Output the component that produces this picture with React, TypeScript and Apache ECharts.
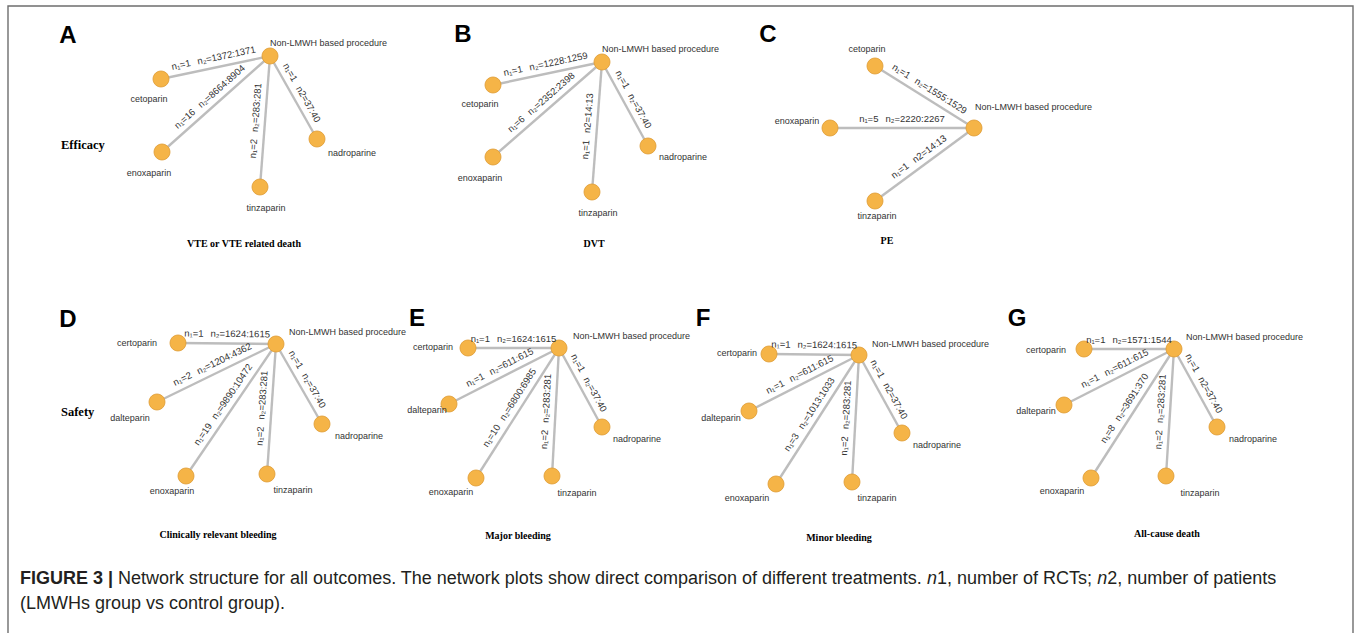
import React, { useEffect, useRef } from "react";
import * as echarts from "echarts";

// ---------------- data ----------------
const HUB = "Non-LMWH based procedure";
const panelLetters = ["A", "B", "C", "D", "E", "F", "G"];
const panelTitles = [
  "VTE or VTE related death",
  "DVT",
  "PE",
  "Clinically relevant bleeding",
  "Major bleeding",
  "Minor bleeding",
  "All-cause death",
];
const groupLabels = ["Efficacy", "Safety"];

const treatmentsA = ["cetoparin", "enoxaparin", "tinzaparin", "nadroparine"];
const n1A = [1, 16, 2, 1];
const n2A = ["1372:1371", "8664:8904", "283:281", "37:40"];
const plainN2A = [false, false, false, true];

const treatmentsB = ["cetoparin", "enoxaparin", "tinzaparin", "nadroparine"];
const n1B = [1, 6, 1, 1];
const n2B = ["1228:1259", "2352:2398", "14:13", "37:40"];
const plainN2B = [false, false, true, false];

const treatmentsC = ["cetoparin", "enoxaparin", "tinzaparin"];
const n1C = [1, 5, 1];
const n2C = ["1555:1529", "2220:2267", "14:13"];
const plainN2C = [false, false, true];

const treatmentsD = ["certoparin", "dalteparin", "enoxaparin", "tinzaparin", "nadroparine"];
const n1D = [1, 2, 19, 2, 1];
const n2D = ["1624:1615", "1204:4362", "9890:10472", "283:281", "37:40"];
const plainN2D = [false, false, false, false, false];

const treatmentsE = ["certoparin", "dalteparin", "enoxaparin", "tinzaparin", "nadroparine"];
const n1E = [1, 1, 10, 2, 1];
const n2E = ["1624:1615", "611:615", "6800:6985", "283:281", "37:40"];
const plainN2E = [false, false, false, false, false];

const treatmentsF = ["certoparin", "dalteparin", "enoxaparin", "tinzaparin", "nadroparine"];
const n1F = [1, 1, 3, 2, 1];
const n2F = ["1624:1615", "611:615", "1013:1033", "283:281", "37:40"];
const plainN2F = [false, false, false, false, true];

const treatmentsG = ["certoparin", "dalteparin", "enoxaparin", "tinzaparin", "nadroparine"];
const n1G = [1, 1, 8, 2, 1];
const n2G = ["1571:1544", "611:615", "3691:370", "283:281", "37:40"];
const plainN2G = [false, false, false, false, true];

// ---------------- layout (positions in page units) ----------------
const layouts = [
  {
    hub: [270, 56], hubLabel: [0, -13],
    nodes: [[161, 79], [162, 152], [260, 187], [317, 139]],
    labels: [[-12, 20], [-13, 21], [6, 21], [35, 14]],
    letter: [68, 34], title: [244, 243],
  },
  {
    hub: [602, 62], hubLabel: [0, -13],
    nodes: [[493, 85], [493, 157], [592, 192], [648, 146]],
    labels: [[-13, 19], [-13, 21], [6, 21], [35, 11]],
    letter: [463, 33], title: [594, 243],
  },
  {
    hub: [974, 128], hubLabel: [1, -21],
    nodes: [[875, 66], [830, 128], [875, 201]],
    labels: [[-8, -17], [-33, -7], [2, 15]],
    letter: [768, 33], title: [887, 240],
  },
  {
    hub: [276, 344], hubLabel: [13, -12],
    nodes: [[178, 343], [157, 402], [186, 476], [267, 474], [322, 424]],
    labels: [[-41, 0], [-27, 16], [-14, 15], [26, 16], [37, 12]],
    letter: [68, 318], title: [218, 534],
  },
  {
    hub: [559, 348], hubLabel: [14, -12],
    nodes: [[468, 348], [449, 404], [476, 478], [552, 476], [602, 427]],
    labels: [[-35, -1], [-22, 6], [-25, 14], [25, 17], [35, 12]],
    letter: [417, 317], title: [518, 535],
  },
  {
    hub: [859, 355], hubLabel: [13, -11],
    nodes: [[769, 354], [749, 411], [776, 484], [852, 482], [902, 433]],
    labels: [[-32, -1], [-28, 7], [-29, 14], [25, 16], [35, 12]],
    letter: [703, 317], title: [839, 537],
  },
  {
    hub: [1174, 349], hubLabel: [12, -12],
    nodes: [[1084, 349], [1064, 405], [1091, 478], [1166, 476], [1217, 427]],
    labels: [[-38, 1], [-28, 6], [-29, 13], [34, 17], [36, 12]],
    letter: [1017, 317], title: [1167, 533],
  },
];

const panels = [
  { t: treatmentsA, n1: n1A, n2: n2A, plain: plainN2A },
  { t: treatmentsB, n1: n1B, n2: n2B, plain: plainN2B },
  { t: treatmentsC, n1: n1C, n2: n2C, plain: plainN2C },
  { t: treatmentsD, n1: n1D, n2: n2D, plain: plainN2D },
  { t: treatmentsE, n1: n1E, n2: n2E, plain: plainN2E },
  { t: treatmentsF, n1: n1F, n2: n2F, plain: plainN2F },
  { t: treatmentsG, n1: n1G, n2: n2G, plain: plainN2G },
];

const SANS = "'Liberation Sans', Arial, Helvetica, sans-serif";
const SERIF = "'Liberation Serif', 'Times New Roman', serif";
const W = 1356;
const H = 633;

function buildSeries(i: number): any {
  const p = panels[i];
  const L = layouts[i];
  const data: any[] = [
    {
      name: HUB,
      value: L.hub,
      label: { align: "left", offset: L.hubLabel },
    },
  ];
  p.t.forEach((name, j) => {
    data.push({ name, value: L.nodes[j], label: { offset: L.labels[j] } });
  });
  const links = p.t.map((name, j) => ({
    source: name,
    target: HUB,
    n1: p.n1[j],
    n2: p.n2[j],
    plain: p.plain[j],
  }));
  return {
    type: "graph",
    coordinateSystem: "cartesian2d",
    xAxisIndex: 0,
    yAxisIndex: 0,
    layout: "none",
    roam: false,
    silent: true,
    symbol: "circle",
    symbolSize: 16,
    edgeSymbol: ["none", "none"],
    itemStyle: { color: "#F5B447", borderColor: "#DE9C35", borderWidth: 0.8 },
    lineStyle: { color: "#BDBDBD", width: 2.4, opacity: 1, curveness: 0 },
    label: {
      show: true,
      position: "inside",
      align: "center",
      verticalAlign: "middle",
      color: "#333",
      fontSize: 9,
      fontFamily: SANS,
      formatter: (prm: any) => prm.name,
    },
    edgeLabel: {
      show: true,
      position: "middle",
      distance: 5,
      color: "#333",
      fontSize: 9.5,
      fontFamily: SANS,
      formatter: (prm: any) => {
        const d = prm.data;
        return `{a|n\u2081=${d.n1}}{b|${d.plain ? "n2" : "n\u2082"}=${d.n2}}`;
      },
      rich: {
        a: { fontSize: 9.5, color: "#333", fontFamily: SANS },
        b: { fontSize: 9.5, color: "#333", fontFamily: SANS, padding: [0, 0, 0, 7] },
      },
    },
    emphasis: { disabled: true },
    data,
    links,
  };
}

function txt(x: number, y: number, text: string, font: string, align = "center", fill = "#000"): any {
  return {
    type: "text",
    x,
    y,
    silent: true,
    style: {
      text,
      font,
      fill,
      align,
      textAlign: align,
      verticalAlign: "middle",
      textVerticalAlign: "middle",
    },
  };
}

export default function App() {
  const ref = useRef<HTMLDivElement>(null);
  useEffect(() => {
    if (!ref.current) return;
    const chart = echarts.init(ref.current, undefined, { renderer: "svg" });
    const graphics: any[] = [];
    // frame
    graphics.push({
      type: "polyline",
      silent: true,
      shape: { points: [[8, 640], [8, 6], [1353, 6], [1353, 640]] },
      style: { stroke: "#6e6e6e", lineWidth: 1.4, fill: "none" },
    });
    layouts.forEach((L, i) => {
      graphics.push(txt(L.letter[0], L.letter[1], panelLetters[i], `bold 24px ${SANS}`));
      graphics.push(txt(L.title[0], L.title[1], panelTitles[i], `bold 10px ${SERIF}`));
    });
    graphics.push(txt(61, 145, groupLabels[0], `bold 12.5px ${SERIF}`, "left"));
    graphics.push(txt(61, 412, groupLabels[1], `bold 12.5px ${SERIF}`, "left"));
    // caption
    graphics.push({
      type: "text",
      x: 20,
      y: 578,
      silent: true,
      style: {
        text:
          "{b|FIGURE 3 |} Network structure for all outcomes. The network plots show direct comparison of different treatments. {i|n}1, number of RCTs; {i|n}2, number of patients",
        font: `18px ${SANS}`,
        fill: "#231f20",
        align: "left",
        textAlign: "left",
        verticalAlign: "middle",
        textVerticalAlign: "middle",
        rich: {
          b: { fontWeight: "bold", fontSize: 18, fontFamily: SANS, fill: "#231f20" },
          i: { fontStyle: "italic", fontSize: 18, fontFamily: SANS, fill: "#231f20" },
        },
      },
    });
    graphics.push(txt(20, 603, "(LMWHs group vs control group).", `18px ${SANS}`, "left", "#231f20"));

    chart.setOption({
      animation: false,
      backgroundColor: "#ffffff",
      grid: { left: 0, top: 0, right: 0, bottom: 0, containLabel: false },
      xAxis: { type: "value", min: 0, max: W, show: false },
      yAxis: { type: "value", min: 0, max: H, inverse: true, show: false },
      series: panels.map((_, i) => buildSeries(i)),
      graphic: graphics,
    });
    return () => chart.dispose();
  }, []);
  return (
    <div
      ref={ref}
      style={{ position: "absolute", left: 0, top: 0, width: W, height: H }}
    />
  );
}
